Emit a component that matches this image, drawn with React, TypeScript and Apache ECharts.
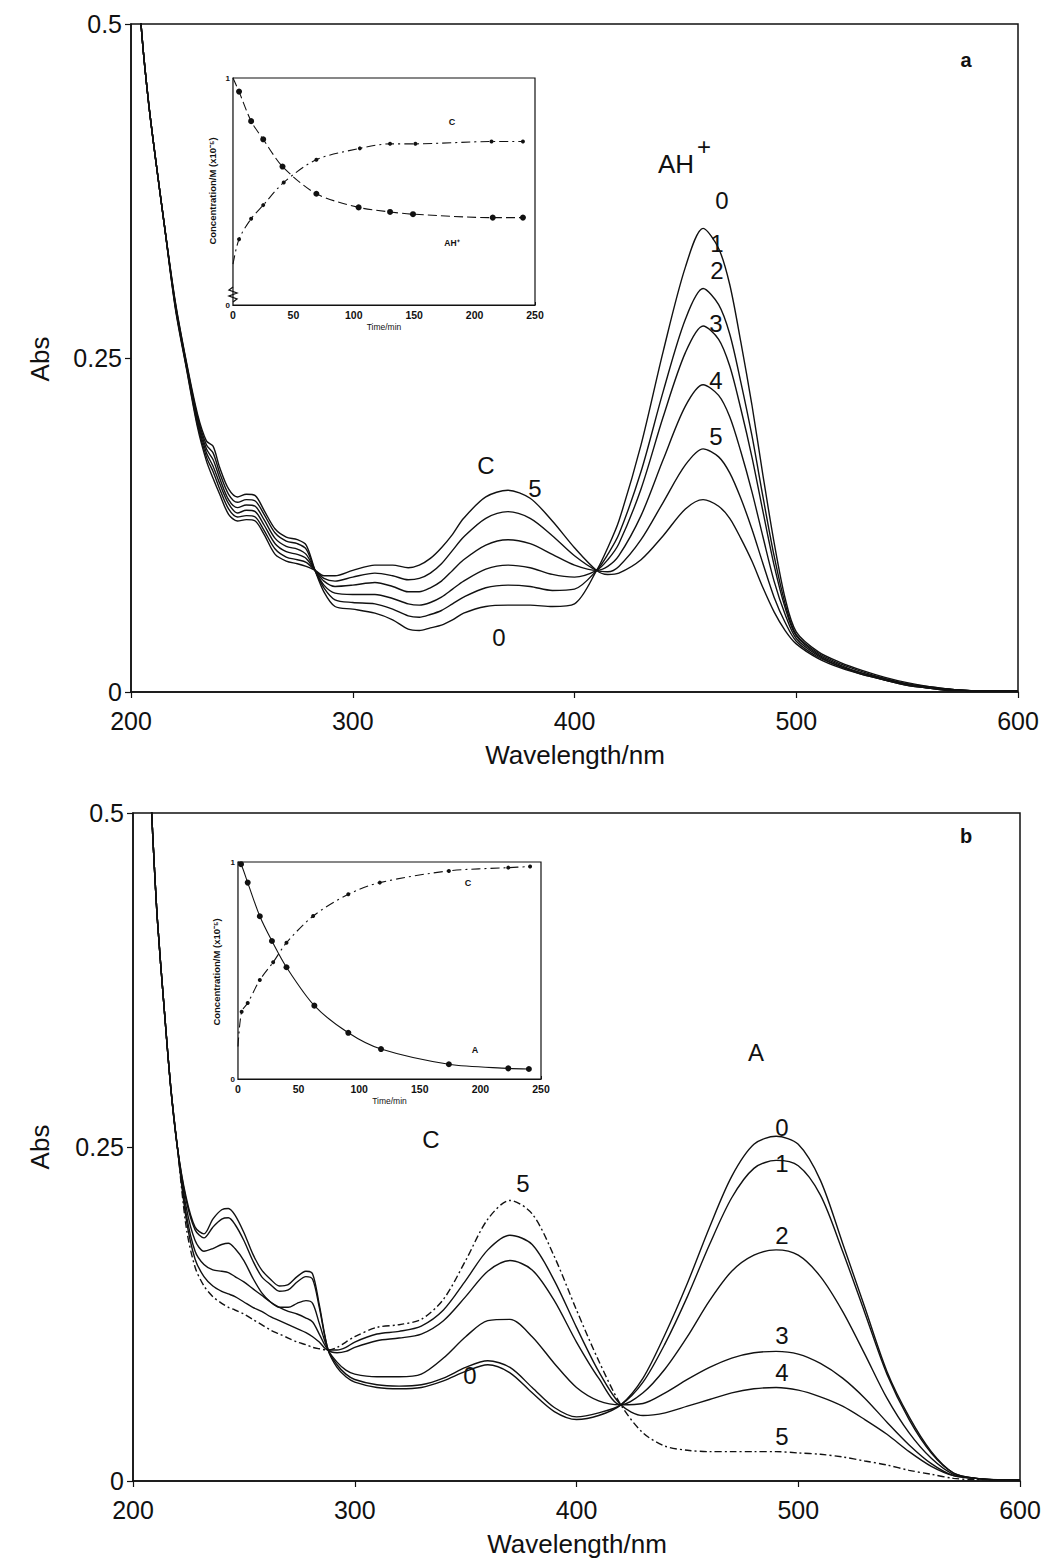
import React, { useEffect, useRef } from "react";
import * as echarts from "echarts";

// ---------- Panel a: spectra (wavelength / nm vs Abs) ----------
const LAMBDA_A = [202, 205, 208, 211, 215, 220, 225, 230, 234, 237, 240, 244, 248, 252, 256, 260, 265, 270, 275, 279, 283, 287, 292, 300, 310, 318, 325, 330, 335, 340, 345, 350, 360, 370, 380, 390, 400, 410, 415, 420, 430, 440, 450, 458, 465, 470, 475, 480, 485, 490, 495, 500, 510, 520, 530, 540, 550, 560, 570, 580, 590, 600];
const A_CURVE0 = [0.56, 0.49, 0.44, 0.40, 0.35, 0.292, 0.247, 0.208, 0.188, 0.184, 0.168, 0.152, 0.146, 0.148, 0.147, 0.136, 0.122, 0.116, 0.114, 0.110, 0.091, 0.075, 0.064, 0.062, 0.059, 0.054, 0.047, 0.046, 0.048, 0.050, 0.054, 0.059, 0.064, 0.065, 0.065, 0.064, 0.066, 0.091, 0.108, 0.128, 0.185, 0.255, 0.318, 0.347, 0.332, 0.305, 0.262, 0.215, 0.162, 0.112, 0.070, 0.045, 0.030, 0.022, 0.016, 0.011, 0.007, 0.004, 0.002, 0.001, 0.001, 0.001];
const A_CURVE1 = [0.56, 0.49, 0.44, 0.40, 0.35, 0.291, 0.246, 0.206, 0.185, 0.179, 0.164, 0.148, 0.142, 0.144, 0.143, 0.133, 0.119, 0.113, 0.111, 0.107, 0.091, 0.078, 0.069, 0.067, 0.066, 0.062, 0.057, 0.056, 0.058, 0.061, 0.066, 0.071, 0.078, 0.080, 0.079, 0.076, 0.077, 0.091, 0.103, 0.118, 0.165, 0.225, 0.279, 0.302, 0.290, 0.268, 0.232, 0.192, 0.146, 0.102, 0.066, 0.043, 0.029, 0.021, 0.015, 0.010, 0.006, 0.004, 0.002, 0.001, 0.001, 0.001];
const A_CURVE2 = [0.56, 0.49, 0.44, 0.40, 0.35, 0.290, 0.245, 0.204, 0.182, 0.174, 0.160, 0.144, 0.138, 0.140, 0.139, 0.129, 0.115, 0.109, 0.107, 0.103, 0.091, 0.080, 0.074, 0.073, 0.073, 0.070, 0.066, 0.065, 0.067, 0.071, 0.077, 0.083, 0.092, 0.095, 0.093, 0.088, 0.086, 0.091, 0.099, 0.111, 0.152, 0.206, 0.254, 0.274, 0.264, 0.244, 0.212, 0.176, 0.135, 0.095, 0.063, 0.042, 0.028, 0.020, 0.014, 0.010, 0.006, 0.003, 0.002, 0.001, 0.001, 0.001];
const A_CURVE3 = [0.56, 0.49, 0.44, 0.40, 0.35, 0.289, 0.244, 0.202, 0.179, 0.169, 0.156, 0.141, 0.134, 0.136, 0.135, 0.125, 0.111, 0.105, 0.103, 0.100, 0.091, 0.083, 0.079, 0.080, 0.082, 0.079, 0.075, 0.075, 0.078, 0.083, 0.091, 0.099, 0.110, 0.114, 0.111, 0.103, 0.095, 0.091, 0.094, 0.102, 0.132, 0.174, 0.214, 0.230, 0.222, 0.206, 0.180, 0.150, 0.116, 0.083, 0.058, 0.040, 0.027, 0.019, 0.014, 0.009, 0.006, 0.003, 0.002, 0.001, 0.001, 0.001];
const A_CURVE4 = [0.56, 0.49, 0.44, 0.40, 0.35, 0.288, 0.243, 0.200, 0.176, 0.165, 0.152, 0.137, 0.131, 0.132, 0.131, 0.121, 0.107, 0.101, 0.099, 0.097, 0.091, 0.085, 0.083, 0.086, 0.089, 0.087, 0.084, 0.085, 0.089, 0.096, 0.106, 0.116, 0.130, 0.135, 0.130, 0.117, 0.102, 0.091, 0.090, 0.094, 0.114, 0.142, 0.170, 0.182, 0.176, 0.164, 0.145, 0.122, 0.096, 0.071, 0.052, 0.038, 0.026, 0.019, 0.013, 0.009, 0.005, 0.003, 0.001, 0.001, 0.001, 0.001];
const A_CURVE5 = [0.56, 0.49, 0.44, 0.40, 0.35, 0.287, 0.242, 0.198, 0.173, 0.160, 0.148, 0.133, 0.128, 0.129, 0.128, 0.118, 0.103, 0.098, 0.096, 0.094, 0.091, 0.087, 0.087, 0.091, 0.095, 0.095, 0.093, 0.095, 0.100, 0.108, 0.118, 0.130, 0.146, 0.151, 0.145, 0.128, 0.108, 0.091, 0.088, 0.089, 0.099, 0.117, 0.137, 0.144, 0.139, 0.130, 0.115, 0.098, 0.078, 0.060, 0.046, 0.036, 0.025, 0.018, 0.013, 0.009, 0.005, 0.003, 0.001, 0.001, 0.001, 0.001];

// ---------- Panel b: spectra ----------
const LAMBDA_B = [205, 207, 209, 211, 214, 217, 220, 224, 228, 232, 236, 240, 243, 246, 250, 254, 258, 262, 266, 270, 274, 278, 281, 284, 288, 292, 296, 300, 310, 320, 330, 340, 350, 360, 370, 380, 390, 400, 410, 420, 430, 440, 450, 460, 470, 480, 490, 500, 510, 520, 530, 540, 550, 560, 570, 580, 590, 600];
const B_CURVE0 = [0.62, 0.55, 0.48, 0.42, 0.355, 0.295, 0.25, 0.212, 0.190, 0.185, 0.196, 0.203, 0.204, 0.199, 0.186, 0.170, 0.158, 0.151, 0.146, 0.147, 0.153, 0.157, 0.155, 0.132, 0.098, 0.085, 0.078, 0.074, 0.070, 0.069, 0.070, 0.075, 0.082, 0.087, 0.081, 0.066, 0.052, 0.046, 0.049, 0.057, 0.077, 0.110, 0.148, 0.190, 0.228, 0.252, 0.258, 0.252, 0.225, 0.178, 0.130, 0.082, 0.048, 0.022, 0.006, 0.002, 0.001, 0.001];
const B_CURVE1 = [0.62, 0.55, 0.48, 0.42, 0.355, 0.295, 0.25, 0.210, 0.188, 0.182, 0.190, 0.196, 0.197, 0.192, 0.180, 0.165, 0.153, 0.147, 0.142, 0.143, 0.149, 0.153, 0.151, 0.130, 0.098, 0.087, 0.080, 0.076, 0.072, 0.071, 0.072, 0.077, 0.085, 0.090, 0.085, 0.070, 0.055, 0.048, 0.051, 0.057, 0.074, 0.103, 0.138, 0.177, 0.212, 0.234, 0.240, 0.236, 0.214, 0.172, 0.126, 0.080, 0.046, 0.021, 0.006, 0.002, 0.001, 0.001];
const B_CURVE2 = [0.62, 0.55, 0.48, 0.42, 0.355, 0.295, 0.25, 0.205, 0.180, 0.172, 0.174, 0.177, 0.178, 0.174, 0.165, 0.152, 0.141, 0.134, 0.130, 0.130, 0.133, 0.135, 0.133, 0.118, 0.098, 0.089, 0.083, 0.080, 0.078, 0.078, 0.080, 0.092, 0.108, 0.120, 0.121, 0.108, 0.088, 0.070, 0.060, 0.057, 0.066, 0.084, 0.108, 0.135, 0.157, 0.169, 0.173, 0.169, 0.153, 0.127, 0.095, 0.062, 0.036, 0.017, 0.005, 0.002, 0.001, 0.001];
const B_CURVE3 = [0.62, 0.55, 0.48, 0.42, 0.355, 0.295, 0.25, 0.200, 0.172, 0.162, 0.158, 0.157, 0.156, 0.153, 0.149, 0.144, 0.139, 0.134, 0.130, 0.127, 0.125, 0.122, 0.119, 0.110, 0.098, 0.096, 0.097, 0.100, 0.105, 0.107, 0.110, 0.120, 0.138, 0.157, 0.165, 0.158, 0.135, 0.104, 0.077, 0.057, 0.058, 0.066, 0.076, 0.085, 0.092, 0.096, 0.097, 0.095, 0.088, 0.077, 0.062, 0.044, 0.027, 0.013, 0.004, 0.002, 0.001, 0.001];
const B_CURVE4 = [0.62, 0.55, 0.48, 0.42, 0.355, 0.295, 0.25, 0.196, 0.166, 0.153, 0.146, 0.142, 0.140, 0.138, 0.134, 0.130, 0.127, 0.123, 0.120, 0.117, 0.114, 0.111, 0.108, 0.104, 0.098, 0.098, 0.100, 0.104, 0.110, 0.112, 0.116, 0.128, 0.150, 0.173, 0.184, 0.177, 0.150, 0.115, 0.082, 0.057, 0.049, 0.051, 0.056, 0.061, 0.066, 0.069, 0.070, 0.068, 0.063, 0.056, 0.046, 0.035, 0.022, 0.011, 0.004, 0.002, 0.001, 0.001];
const B_CURVE5 = [0.62, 0.55, 0.48, 0.42, 0.355, 0.295, 0.25, 0.190, 0.160, 0.146, 0.138, 0.133, 0.130, 0.128, 0.125, 0.121, 0.117, 0.113, 0.110, 0.107, 0.104, 0.102, 0.100, 0.099, 0.098, 0.100, 0.104, 0.108, 0.115, 0.117, 0.121, 0.136, 0.165, 0.196, 0.210, 0.200, 0.168, 0.128, 0.090, 0.057, 0.036, 0.026, 0.023, 0.022, 0.022, 0.022, 0.022, 0.021, 0.020, 0.018, 0.015, 0.012, 0.008, 0.005, 0.002, 0.001, 0.001, 0.001];

// ---------- Inset a: concentration vs time ----------
const INSET_A_AH_T = [0, 5, 15, 25, 41, 69, 104, 130, 149, 215, 240];
const INSET_A_AH_C = [1.0, 0.94, 0.81, 0.73, 0.61, 0.49, 0.43, 0.41, 0.40, 0.385, 0.385];
const INSET_A_C_T = [0, 5, 15, 25, 42, 69, 105, 130, 151, 214, 240];
const INSET_A_C_C = [0.18, 0.29, 0.38, 0.44, 0.54, 0.64, 0.69, 0.71, 0.71, 0.72, 0.72];

// ---------- Inset b ----------
const INSET_B_A_T = [0, 2.5, 8, 18, 28, 40, 63, 91, 118, 174, 223, 240];
const INSET_B_A_C = [1.0, 0.99, 0.905, 0.75, 0.636, 0.515, 0.338, 0.213, 0.138, 0.068, 0.049, 0.046];
const INSET_B_C_T = [0, 3, 8, 18, 29, 40, 62, 91, 117, 174, 223, 241];
const INSET_B_C_C = [0.15, 0.31, 0.35, 0.456, 0.538, 0.628, 0.751, 0.851, 0.905, 0.959, 0.974, 0.979];

const MAIN_X_TICKS = { min: 200, max: 600, interval: 100 };
const MAIN_Y_TICKS = { min: 0, max: 0.5, interval: 0.25 };
const INSET_X_TICKS = { min: 0, max: 250, interval: 50 };
const INSET_Y_TICKS = { min: 0, max: 1, interval: 1 };

const FONT = "'Liberation Sans', Arial, Helvetica, sans-serif";
const INK = "#111";

function zip(xs: number[], ys: number[]) {
  return xs.map((x, i) => [x, ys[i]]);
}

function mainX(gridIndex: number) {
  return {
    type: "value",
    gridIndex,
    ...MAIN_X_TICKS,
    axisLine: { onZero: false, lineStyle: { color: INK, width: 1.5 } },
    axisTick: { length: 6, lineStyle: { color: INK, width: 1.2 } },
    axisLabel: { fontSize: 25, color: INK, fontFamily: FONT, margin: 16 },
    splitLine: { show: false },
  };
}
function mainY(gridIndex: number) {
  return {
    type: "value",
    gridIndex,
    ...MAIN_Y_TICKS,
    axisLine: { onZero: false, lineStyle: { color: INK, width: 1.5 } },
    axisTick: { length: 6, lineStyle: { color: INK, width: 1.2 } },
    axisLabel: { fontSize: 25, color: INK, fontFamily: FONT, margin: 9 },
    splitLine: { show: false },
  };
}
function insetX(gridIndex: number) {
  return {
    type: "value",
    gridIndex,
    ...INSET_X_TICKS,
    name: "Time/min",
    nameLocation: "middle",
    nameGap: 17,
    nameTextStyle: { fontSize: 8.5, color: INK, fontFamily: FONT },
    axisLine: { onZero: false, lineStyle: { color: INK, width: 1.2 } },
    axisTick: { length: 3, inside: true, lineStyle: { color: INK } },
    axisLabel: { fontSize: 10.5, fontWeight: "bold", color: INK, fontFamily: FONT, margin: 4 },
    splitLine: { show: false },
  };
}
function insetY(gridIndex: number) {
  return {
    type: "value",
    gridIndex,
    ...INSET_Y_TICKS,
    axisLine: { onZero: false, lineStyle: { color: INK, width: 1.2 } },
    axisTick: { length: 3, inside: true, lineStyle: { color: INK } },
    axisLabel: { fontSize: 8, fontWeight: "bold", color: INK, fontFamily: FONT, margin: 3 },
    splitLine: { show: false },
  };
}

function spectrum(grid: number, xs: number[], ys: number[], dashed = false) {
  return {
    type: "line",
    xAxisIndex: grid,
    yAxisIndex: grid,
    data: zip(xs, ys),
    showSymbol: false,
    symbol: "none",
    smooth: 0.3,
    clip: true,
    lineStyle: { color: INK, width: 1.4, type: dashed ? [7, 3, 2, 3] : "solid" },
    z: 3,
  };
}

function kinetic(grid: number, ts: number[], cs: number[], size: number, lineType: any, symbol = "circle") {
  return {
    type: "line",
    xAxisIndex: grid,
    yAxisIndex: grid,
    data: ts.map((t, i) => ({ value: [t, cs[i]], symbolSize: i === 0 ? 0 : size })),
    symbol,
    smooth: 0.3,
    itemStyle: { color: INK },
    lineStyle: { color: INK, width: 1.1, type: lineType },
    z: 6,
  };
}

function txt(x: number, y: number, text: string, size: number, extra: any = {}) {
  return {
    type: "text",
    x,
    y,
    z: 20,
    ...extra,
    style: {
      text,
      fontSize: size,
      fontFamily: FONT,
      fill: INK,
      align: "center",
      verticalAlign: "middle",
      ...(extra.style || {}),
    },
  };
}

export default function App() {
  const ref = useRef<HTMLDivElement>(null);
  useEffect(() => {
    if (!ref.current) return;
    const chart = echarts.init(ref.current, null, { renderer: "svg" });
    const option: any = {
      animation: false,
      backgroundColor: "#fff",
      grid: [
        { left: 131, top: 24, width: 887, height: 668, show: true, borderColor: INK, borderWidth: 1.5, backgroundColor: "transparent" },
        { left: 133, top: 813, width: 887, height: 668, show: true, borderColor: INK, borderWidth: 1.5, backgroundColor: "transparent" },
        { left: 233, top: 78, width: 302, height: 227, show: true, borderColor: INK, borderWidth: 1.2, backgroundColor: "#fff", z: 5 },
        { left: 238, top: 862, width: 303, height: 217, show: true, borderColor: INK, borderWidth: 1.2, backgroundColor: "#fff", z: 5 },
      ],
      xAxis: [mainX(0), mainX(1), insetX(2), insetX(3)],
      yAxis: [mainY(0), mainY(1), insetY(2), insetY(3)],
      series: [
        spectrum(0, LAMBDA_A, A_CURVE0),
        spectrum(0, LAMBDA_A, A_CURVE1),
        spectrum(0, LAMBDA_A, A_CURVE2),
        spectrum(0, LAMBDA_A, A_CURVE3),
        spectrum(0, LAMBDA_A, A_CURVE4),
        spectrum(0, LAMBDA_A, A_CURVE5),
        spectrum(1, LAMBDA_B, B_CURVE0),
        spectrum(1, LAMBDA_B, B_CURVE1),
        spectrum(1, LAMBDA_B, B_CURVE2),
        spectrum(1, LAMBDA_B, B_CURVE3),
        spectrum(1, LAMBDA_B, B_CURVE4),
        spectrum(1, LAMBDA_B, B_CURVE5, true),
        kinetic(2, INSET_A_AH_T, INSET_A_AH_C, 6, [9, 4]),
        kinetic(2, INSET_A_C_T, INSET_A_C_C, 4, [9, 4, 2, 4]),
        kinetic(3, INSET_B_A_T, INSET_B_A_C, 6, "solid"),
        kinetic(3, INSET_B_C_T, INSET_B_C_C, 4, [9, 4, 2, 4]),
      ],
      graphic: [
        // axis names
        txt(40, 359, "Abs", 26, { rotation: Math.PI / 2 }),
        txt(575, 755, "Wavelength/nm", 26),
        txt(40, 1147, "Abs", 26, { rotation: Math.PI / 2 }),
        txt(577, 1544, "Wavelength/nm", 26),
        // panel letters
        txt(966, 60, "a", 20, { style: { fontWeight: "bold" } }),
        txt(966, 836, "b", 20, { style: { fontWeight: "bold" } }),
        // panel a annotations
        txt(676, 164, "AH", 26),
        txt(704, 146, "+", 24),
        txt(722, 200, "0", 24),
        txt(717, 243, "1", 24),
        txt(717, 270, "2", 24),
        txt(716, 323, "3", 24),
        txt(716, 380, "4", 24),
        txt(716, 436, "5", 24),
        txt(486, 465, "C", 24),
        txt(535, 488, "5", 24),
        txt(499, 637, "0", 24),
        // panel b annotations
        txt(756, 1052, "A", 24),
        txt(782, 1127, "0", 24),
        txt(782, 1163, "1", 24),
        txt(782, 1235, "2", 24),
        txt(782, 1335, "3", 24),
        txt(782, 1372, "4", 24),
        txt(782, 1436, "5", 24),
        txt(431, 1139, "C", 24),
        txt(523, 1183, "5", 24),
        txt(470, 1375, "0", 24),
        // inset labels
        txt(212, 191, "Concentration/M (x10⁻⁵)", 9.5, { rotation: Math.PI / 2, style: { fontWeight: "bold" } }),
        txt(216, 972, "Concentration/M (x10⁻⁵)", 9.5, { rotation: Math.PI / 2, style: { fontWeight: "bold" } }),
        txt(452, 122, "C", 9, { style: { fontWeight: "bold" } }),
        txt(452, 243, "AH⁺", 8.5, { style: { fontWeight: "bold" } }),
        txt(468, 883, "C", 9, { style: { fontWeight: "bold" } }),
        txt(475, 1050, "A", 9, { style: { fontWeight: "bold" } }),
        {
          type: "polyline",
          z: 20,
          shape: { points: [[233, 287], [229, 290], [237, 293], [229, 296], [237, 299], [233, 302]] },
          style: { stroke: INK, lineWidth: 1.3, fill: "none" },
        },
      ],
    };
    chart.setOption(option);
    return () => chart.dispose();
  }, []);
  return (
    <div
      ref={ref}
      style={{ position: "absolute", left: 0, top: 0, width: 1049, height: 1558, background: "#fff" }}
    />
  );
}
